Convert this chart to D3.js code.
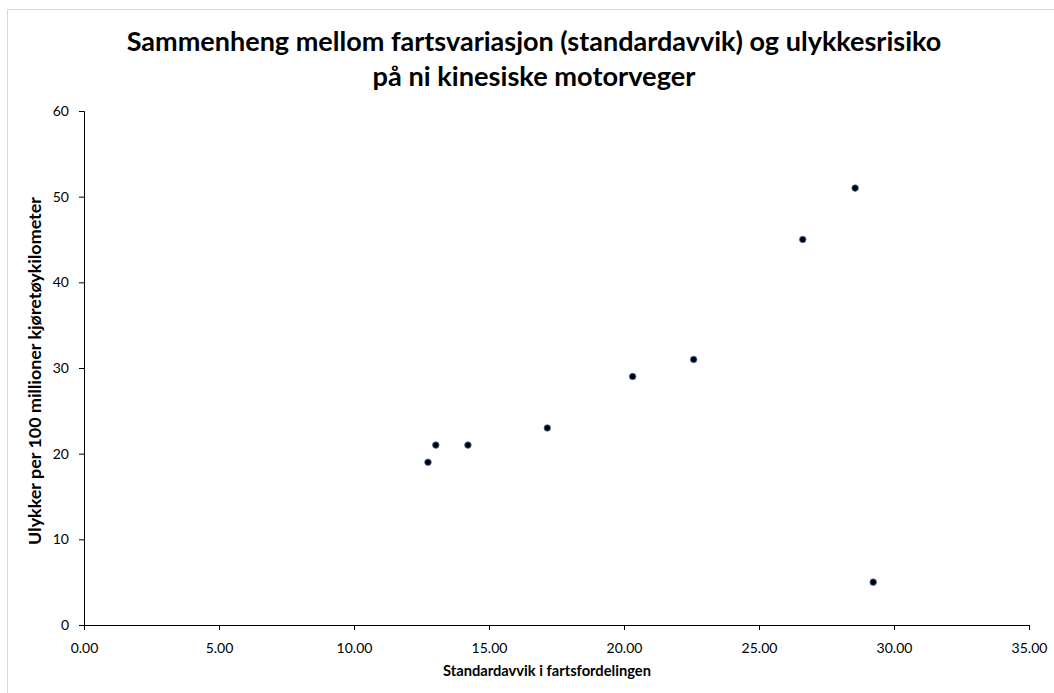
<!DOCTYPE html>
<html><head><meta charset="utf-8">
<script src="https://cdn.jsdelivr.net/npm/d3@7"></script>
<style>body{margin:0;background:#fff;} text{font-family:Lato,"Open Sans",sans-serif;}</style>
</head><body>
<svg id="c" width="1054" height="693"></svg>
<script>
const titleLines = ["Sammenheng mellom fartsvariasjon (standardavvik) og ulykkesrisiko", "på ni kinesiske motorveger"];
const xTitle = "Standardavvik i fartsfordelingen";
const yTitle = "Ulykker per 100 millioner kjøretøykilometer";
const stdDev = [12.74, 13.03, 14.22, 17.16, 20.32, 22.58, 26.62, 28.56, 29.23];
const accidents = [19, 21, 21, 23, 29, 31, 45, 51, 5];
const xTicks = [0, 5, 10, 15, 20, 25, 30, 35];
const yTicks = [0, 10, 20, 30, 40, 50, 60];

const svg = d3.select("#c");
svg.append("rect").attr("width",1054).attr("height",693).attr("fill","#fff");
svg.append("path").attr("d","M7.5,1054V9.5H1054").attr("fill","none").attr("stroke","#d9d9d9").attr("stroke-width",1);

const x = d3.scaleLinear().domain([0,35]).range([84,1029]);
const y = d3.scaleLinear().domain([0,60]).range([625,111]);

function fit(sel, target){
  const w = sel.node().getComputedTextLength();
  const fs = parseFloat(sel.attr("font-size"));
  sel.attr("font-size", fs*target/w);
}

const xa = svg.append("g").attr("transform","translate(0,625)")
  .call(d3.axisBottom(x).tickValues(xTicks).tickFormat(d3.format(".2f")).tickSizeOuter(0).tickSize(5));
const ya = svg.append("g").attr("transform","translate(84,0)")
  .call(d3.axisLeft(y).tickValues(yTicks).tickSizeOuter(0).tickSize(5));
[xa,ya].forEach(a=>{
  a.select(".domain").attr("stroke","#000").attr("stroke-width",1);
  a.selectAll(".tick line").attr("stroke","#000");
  a.selectAll(".tick text").attr("font-size",14).attr("fill","#000").attr("font-family","Lato");
});
xa.selectAll(".tick text").attr("dy","1.4em");
ya.selectAll(".tick text").attr("dx","-0.5em");

svg.append("g").selectAll("circle").data(stdDev).join("circle")
  .attr("cx",(d)=>x(d)).attr("cy",(d,i)=>y(accidents[i])).attr("r",3.3)
  .attr("fill","#000").attr("stroke","#4f81bd").attr("stroke-width",0.8);

const t1 = svg.append("text").attr("x",534).attr("y",51).attr("text-anchor","middle")
  .attr("font-weight","bold").attr("font-size",24).text(titleLines[0]);
fit(t1,815);
const t2 = svg.append("text").attr("x",534).attr("y",86).attr("text-anchor","middle")
  .attr("font-weight","bold").attr("font-size",24).text(titleLines[1]);
fit(t2,323);
const xl = svg.append("text").attr("x",547).attr("y",676).attr("text-anchor","middle")
  .attr("font-weight","bold").attr("font-size",12).text(xTitle);
fit(xl,208);
const yl = svg.append("text").attr("transform","translate(41,371) rotate(-90)").attr("text-anchor","middle")
  .attr("font-weight","bold").attr("font-size",12).text(yTitle);
fit(yl,348);
</script>
</body></html>
